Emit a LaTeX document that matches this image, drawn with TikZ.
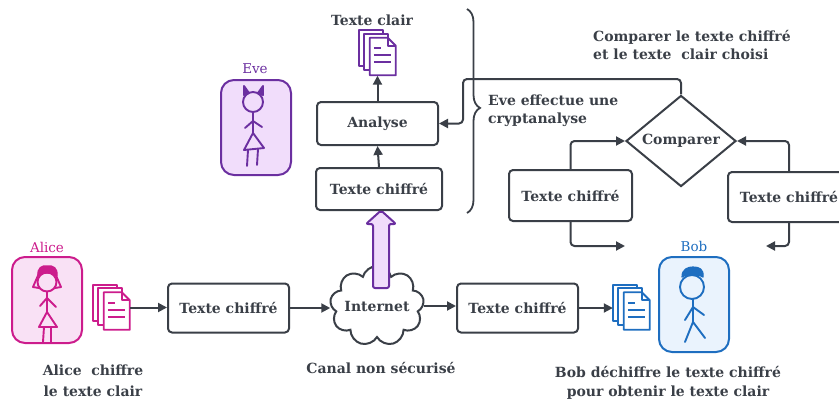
\documentclass[tikz,border=0pt]{standalone}
\usepackage{fontspec}
\setmainfont{DejaVu Serif}
\usetikzlibrary{arrows.meta,shapes.geometric,shapes.symbols,decorations.pathreplacing}

\definecolor{ink}{HTML}{3A3F47}
\definecolor{alicec}{HTML}{CC1C8C}
\definecolor{alicef}{HTML}{F9E1F5}
\definecolor{evec}{HTML}{6B2FA0}
\definecolor{evef}{HTML}{F1DDFB}
\definecolor{bobc}{HTML}{1E6EC0}
\definecolor{bobf}{HTML}{EAF3FD}

\tikzset{
  lbl/.style={font=\bfseries\fontsize{14}{18}\selectfont, text=ink, inner sep=0pt},
  box/.style={draw=ink, line width=2pt, rounded corners=4pt, fill=white,
    minimum width=121pt, minimum height=49pt, lbl},
  arr/.style={draw=ink, line width=2pt, rounded corners=4pt,
    -{Triangle[length=9pt,width=9pt]}},
  person/.style={line width=2pt, rounded corners=13pt, minimum width=70pt, minimum height=86pt},
  who/.style={font=\fontsize{13.5}{16}\selectfont, inner sep=0pt},
  figure/.style={line width=1.9pt, line cap=round, line join=round},
  docspot/.style={minimum width=37pt, minimum height=45pt, inner sep=0pt},
  docicon/.pic={
    \begin{scope}[line width=1.8pt, line join=round]
      \filldraw[fill=white] (0,0) rectangle (24,36);
      \filldraw[fill=white] (5,3.5) rectangle (29,40);
      \filldraw[fill=white] (11,7.5) -- (29,7.5) -- (37,15.5) -- (37,45) -- (11,45) -- cycle;
      \draw (29,7.5) -- (29,15.5) -- (37,15.5);
      \draw (15,18) -- (22,18) (15,25) -- (32,25) (15,32) -- (32,32);
    \end{scope}}
}

\begin{document}
\begin{tikzpicture}[x=1pt,y=-1pt]
\useasboundingbox (0,0) rectangle (839,400);

% --- persons -------------------------------------------------------------
\node[person, draw=alicec, fill=alicef] (alice) at (47,300) {};
\node[who, text=alicec] (alicelbl) at (47,247) {Alice};
\node[person, draw=evec, fill=evef, minimum height=95pt] (eve) at (256,127.5) {};
\node[who, text=evec] (evelbl) at (255,69) {Eve};
\node[person, draw=bobc, fill=bobf, minimum height=95pt] (bob) at (694,304.5) {};
\node[who, text=bobc] (boblbl) at (694,246) {Bob};

% Alice
\begin{scope}[alicec, figure]
  \draw (47,282) circle (9.5);
  \filldraw[line width=1.2pt] (38,276) .. controls (37,268) and (42,265) .. (47,266)
        .. controls (53,265) and (58,268) .. (57,276)
        .. controls (53,272) and (42,272) .. (38,276) -- cycle;
  \draw (40,271) -- (33,287) -- (39,288);
  \draw (54,271) -- (61,287) -- (55,288);
  \draw (47,291.5) -- (47,312);
  \draw (40,306) -- (47,298) -- (56,307);
  \draw (47,312) -- (39,327) -- (57,327) -- cycle;
  \draw (44,327) -- (43,342) (51,327) -- (51,342);
\end{scope}

% Eve
\begin{scope}[evec, figure]
  \draw (253,102) circle (10);
  \filldraw (244,95) -- (244,86) -- (249,93) -- cycle;
  \filldraw (258,93) -- (263,86) -- (263,95) -- cycle;
  \draw (253,112) -- (253,134);
  \draw (245,128) -- (253,121) -- (262,127);
  \draw (253,133) -- (244,150) -- (264,148) -- cycle;
  \draw (248,150) -- (247,166) (258,149) -- (257,165);
\end{scope}

% Bob
\begin{scope}[bobc, figure]
  \draw (692,287) circle (12);
  \filldraw[line width=1.2pt] (682,277) .. controls (682,269) and (688,267) .. (693,267)
        .. controls (699,267) and (704,269) .. (703,277)
        .. controls (698,274) and (687,274) .. (682,277) -- cycle;
  \draw (693,299) -- (693,322);
  \draw (685,320) -- (693,307) -- (704,315);
  \draw (685,342) -- (693,322) -- (705,338);
\end{scope}

% --- document icons ------------------------------------------------------
\node[docspot] (adoc) at (111.5,307.5) {};
\pic[alicec] at (adoc.north west) {docicon};
\node[docspot] (bdoc) at (631.5,307.5) {};
\pic[bobc] at (bdoc.north west) {docicon};
\node[docspot] (edoc) at (377.5,53) {};
\pic[evec] at (edoc.north west) {docicon};

% --- main channel --------------------------------------------------------
\node[box] (c1) at (228.5,308) {Texte chiffré};
\node[cloud, cloud puffs=9, aspect=1.3, draw=ink, line width=2pt, fill=white,
      minimum width=94pt, minimum height=80pt, inner sep=0pt] (net) at (377,306) {};
\node[lbl] (nettxt) at (net.center) {Internet};
\node[box] (c2) at (517.5,308) {Texte chiffré};

\draw[arr] (adoc.east) -- (adoc.east -| c1.west);
\draw[arr] (c1.east) -- (c1.east -| net.west);
\draw[arr] (net.east) -- (net.east -| c2.west);
\draw[arr] (c2.east) -- (c2.east -| bdoc.west);

% --- Eve's branch --------------------------------------------------------
\node[box, minimum width=126pt, minimum height=42pt] (ec) at (379,189) {Texte chiffré};
\node[box, minimum width=121pt, minimum height=43pt] (ea) at (377.5,123.5) {Analyse};
\node[lbl] (tclair) at (372,20) {Texte clair};

\path[draw=evec, fill=evef, line width=2pt, rounded corners=2pt, line join=round]
  (373,288) -- (373,224) -- (366,224) -- (381,210.5) -- (396,224) -- (389,224) -- (389,288) -- cycle;

\draw[arr] (ec.north) -- (ea.south);
\draw[arr] (ea.north) -- (edoc.south);

\draw[ink, line width=1.8pt, decorate, decoration={brace, amplitude=13pt, aspect=0.485}]
  (467,9) -- (467,213);
\node[lbl, align=left, anchor=west] (evetxt) at (488,111) {Eve effectue une\\cryptanalyse};

% --- comparison ----------------------------------------------------------
\node[diamond, draw=ink, line width=2pt, fill=white, minimum width=110pt,
      minimum height=77pt, inner sep=0pt, lbl] (cmp) at (681,141) {Comparer};
\node[lbl, align=left, anchor=west] (cmptxt) at (593,44.5) {Comparer le texte chiffré\\et le texte\ \ clair choisi};
\node[box, minimum width=123pt, minimum height=51pt] (cl) at (570.5,195.5) {Texte chiffré};
\node[box, minimum width=122pt, minimum height=50pt] (cr) at (789,197) {Texte chiffré};

\coordinate (k1) at (463,79);
\draw[arr] (cmp.north) |- (k1) |- (ea.east);
\draw[arr] (cl.north) |- (cmp.west);
\draw[arr] (cr.north) |- (cmp.east);
\coordinate (clend) at (625,246);
\coordinate (crend) at (766,246);
\draw[arr] (cl.south) |- (clend);
\draw[arr] (cr.south) |- (crend);

% --- captions ------------------------------------------------------------
\node[lbl, align=center, font=\bfseries\fontsize{14}{21}\selectfont] (acap) at (93,381) {Alice\ \ chiffre\\le texte clair};
\node[lbl] (ncap) at (381,368) {Canal non sécurisé};
\node[lbl, align=center, font=\bfseries\fontsize{14}{19}\selectfont] (bcap) at (668,382.5) {Bob déchiffre le texte chiffré\\pour obtenir le texte clair};
\end{tikzpicture}
\end{document}
